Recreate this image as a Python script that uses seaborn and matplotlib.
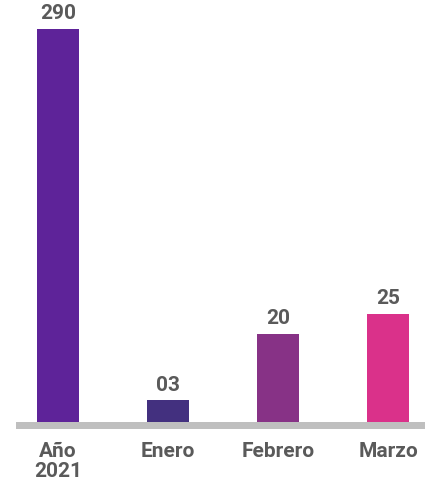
import matplotlib
matplotlib.use("Agg")
import matplotlib.pyplot as plt
import seaborn as sns

categories = ["Año\n2021", "Enero", "Febrero", "Marzo"]
values = [290, 3, 20, 25]
value_labels = ["290", "03", "20", "25"]
# drawn bar heights (the 290 bar is compressed in the original infographic)
bar_heights = [91, 5, 20.4, 25]
colors = ["#5e2399", "#43307f", "#873286", "#da318a"]

sns.set_theme(style="white")
plt.rcParams["font.family"] = ["Roboto", "DejaVu Sans"]
text_color = "#5a5a5a"
fs = 15

fig = plt.figure(figsize=(4.25, 4.86), dpi=100)
ax = fig.add_axes([16 / 425, 57 / 486, 1 - 16 / 425, 429 / 486])

sns.barplot(x=categories, y=bar_heights, hue=categories, palette=colors,
            legend=False, width=0.38, saturation=1, linewidth=0, ax=ax, zorder=3)

ax.set_xlim(-0.38, 3.336)
ax.set_ylim(-1.62, 97.7)
ax.axhspan(-1.62, 0, color="#bfbfbf", zorder=2, lw=0)

for cont, lab in zip(ax.containers, value_labels):
    ax.bar_label(cont, labels=[lab], padding=4, fontsize=fs,
                 fontweight="bold", color=text_color)

ax.set_yticks([])
ax.tick_params(axis="x", length=0, pad=9, labelsize=fs, labelcolor=text_color)
for t in ax.get_xticklabels():
    t.set_fontweight("bold")
    t.set_linespacing(1.1)
for s in ax.spines.values():
    s.set_visible(False)
ax.set_xlabel("")
ax.set_ylabel("")

fig.savefig("out.png", dpi=100)
